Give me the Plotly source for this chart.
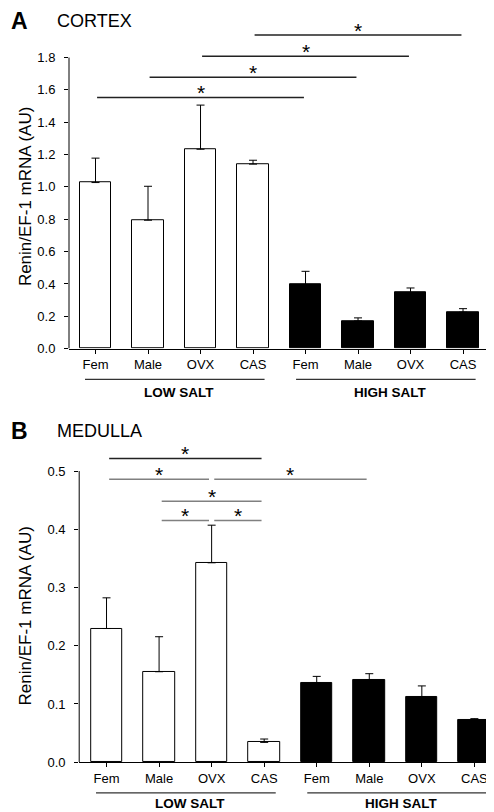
import plotly.graph_objects as go

# ---------------- data ----------------
categories = ["Fem", "Male", "OVX", "CAS", "Fem", "Male", "OVX", "CAS"]
groups = ["LOW SALT", "HIGH SALT"]

cortex_mean = [1.027, 0.794, 1.233, 1.141, 0.396, 0.171, 0.347, 0.225]
cortex_sem = [0.151, 0.210, 0.273, 0.024, 0.082, 0.019, 0.028, 0.022]

medulla_mean = [0.2296, 0.1554, 0.3425, 0.034, 0.136, 0.141, 0.112, 0.073]
medulla_sem = [0.0527, 0.0601, 0.0646, 0.0058, 0.0114, 0.011, 0.019, 0.0018]

cortex_yticks = [0.0, 0.2, 0.4, 0.6, 0.8, 1.0, 1.2, 1.4, 1.6, 1.8]
medulla_yticks = [0.0, 0.1, 0.2, 0.3, 0.4, 0.5]

# significance comparisons: (from bar, to bar, level)
cortex_sig = [(0, 4, 1.553), (1, 5, 1.678), (2, 6, 1.808), (3, 7, 1.939)]
medulla_sig = [(0, 3, 0.5216), (0, 2, 0.486), (2, 5, 0.486),
               (1, 3, 0.448), (1, 2, 0.415), (2, 3, 0.415)]
medulla_sig_colors = ["#222222", "#808080", "#808080", "#808080", "#808080", "#808080"]

# ---------------- layout helpers ----------------
W, H = 494, 812
FONT = "Liberation Sans, Arial, sans-serif"


def py(p):
    return 1 - p / H


x_idx = list(range(len(categories)))
fill = ["white"] * 4 + ["black"] * 4

fig = go.Figure()
for mean, sem, xa, ya in [(cortex_mean, cortex_sem, "x", "y"),
                          (medulla_mean, medulla_sem, "x2", "y2")]:
    fig.add_trace(go.Bar(
        x=x_idx, y=mean, width=0.6, xaxis=xa, yaxis=ya,
        marker=dict(color=fill, line=dict(color="black", width=1)),
        error_y=dict(type="data", array=sem, arrayminus=[0] * len(sem),
                     symmetric=False, color="black", thickness=1, width=4),
        showlegend=False, hoverinfo="skip",
    ))

xr_top = [-0.505, 7.51]
xr_bot = [-0.52, 7.48]

axis_common = dict(showgrid=False, zeroline=False, ticks="outside", ticklen=4,
                   tickcolor="black", tickwidth=1,
                   tickfont=dict(family=FONT, size=13, color="black"))

fig.update_layout(
    width=W, height=H, margin=dict(l=0, r=0, t=0, b=0),
    plot_bgcolor="white", paper_bgcolor="white", bargap=0,
    xaxis=dict(domain=[61 / W, 481.8 / W], range=xr_top, anchor="y",
               tickvals=x_idx, ticktext=categories, showline=True,
               linecolor="black", linewidth=1, **axis_common),
    yaxis=dict(domain=[py(344), py(17.4)], range=[0, 2.0], anchor="x",
               tickvals=cortex_yticks, tickformat=".1f", showline=False,
               ticklabelstandoff=6, **axis_common),
    xaxis2=dict(domain=[71.2 / W, 491.6 / W], range=xr_bot, anchor="y2",
                tickvals=x_idx, ticktext=categories, showline=True,
                linecolor="black", linewidth=1, **axis_common),
    yaxis2=dict(domain=[py(761.7), py(438.3)], range=[0, 0.55], anchor="x2",
                tickvals=medulla_yticks, tickformat=".1f", showline=False,
                ticklabelstandoff=6, **axis_common),
)

shapes = []
annotations = []

# y axis lines (only up to the last tick)
for xa, ya, top in [("x", "y", cortex_yticks[-1]), ("x2", "y2", medulla_yticks[-1])]:
    shapes.append(dict(type="line", xref=xa + " domain", yref=ya, x0=0, x1=0,
                       y0=0, y1=top, line=dict(color="black", width=1)))

STAR = dict(family=FONT, size=21, color="black")

# significance brackets
inset = 0.05
for (i, j, lvl) in cortex_sig:
    shapes.append(dict(type="line", xref="x", yref="y", x0=i + inset * 0.6, x1=j - inset * 0.6,
                       y0=lvl, y1=lvl, line=dict(color="#222222", width=1.5)))
    annotations.append(dict(x=(i + j) / 2, y=lvl, xref="x", yref="y", text="*",
                            showarrow=False, yanchor="middle", yshift=5, font=STAR))
for (i, j, lvl), col in zip(medulla_sig, medulla_sig_colors):
    shapes.append(dict(type="line", xref="x2", yref="y2", x0=i + inset, x1=j - inset,
                       y0=lvl, y1=lvl, line=dict(color=col, width=1.5)))
    annotations.append(dict(x=(i + j) / 2, y=lvl, xref="x2", yref="y2", text="*",
                            showarrow=False, yanchor="middle", yshift=5, font=STAR))

# group underlines and labels
group_spans = [(-0.2, 3.22), (3.82, 7.24)]
for xa, xr, line_py, label_py in [("x", xr_top, 375, 388), ("x2", xr_bot, 792.7, 803)]:
    for (a, b), g in zip(group_spans, groups):
        fa = (a - xr[0]) / (xr[1] - xr[0])
        fb = (b - xr[0]) / (xr[1] - xr[0])
        shapes.append(dict(type="line", xref=xa + " domain", yref="paper",
                           x0=fa, x1=fb, y0=py(line_py), y1=py(line_py),
                           line=dict(color="#333333", width=1.3)))
        annotations.append(dict(x=(a + b) / 2 + 0.08, y=py(label_py), xref=xa, yref="paper",
                                text="<b>" + g + "</b>", showarrow=False,
                                xanchor="center", yanchor="middle",
                                font=dict(family=FONT, size=13.5, color="black")))

# panel letters and titles
for letter, title, cy in [("A", "CORTEX", 13), ("B", "MEDULLA", 427)]:
    annotations.append(dict(x=1 / W, y=py(cy), xref="paper", yref="paper",
                            text="<b>" + letter + "</b>", showarrow=False,
                            xanchor="left", yanchor="middle",
                            font=dict(family=FONT, size=23, color="black")))
    annotations.append(dict(x=47 / W, y=py(cy), xref="paper", yref="paper",
                            text=title, showarrow=False,
                            xanchor="left", yanchor="middle",
                            font=dict(family=FONT, size=18, color="black")))

# y axis titles
for cy in [191, 614.5]:
    annotations.append(dict(x=17 / W, y=py(cy), xref="paper", yref="paper",
                            text="Renin/EF-1 mRNA (AU)", textangle=-90, showarrow=False,
                            xanchor="center", yanchor="middle",
                            font=dict(family=FONT, size=17, color="black")))

fig.update_layout(shapes=shapes, annotations=annotations)
fig.write_html("out.html")
